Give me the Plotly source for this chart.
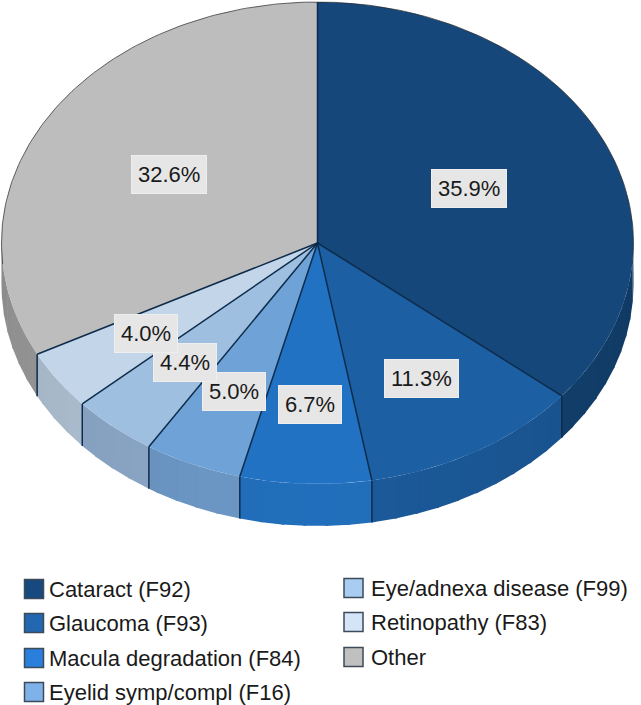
import math
import plotly.graph_objects as go

categories = ["Cataract (F92)", "Glaucoma (F93)", "Macula degradation (F84)", "Eyelid symp/compl (F16)",
              "Eye/adnexa disease (F99)", "Retinopathy (F83)", "Other"]
shares = [35.9, 11.3, 6.7, 5.0, 4.4, 4.0, 32.6]
labels = ["35.9%", "11.3%", "6.7%", "5.0%", "4.4%", "4.0%", "32.6%"]

top_colors = ["#15477a", "#1c5fa3", "#2272c3", "#6fa3d8", "#9fbfe0", "#c3d5e8", "#bdbdbd"]
side_colors = [(19, 68, 116), (28, 91, 156), (34, 112, 189), (111, 155, 202), (146, 174, 207), (184, 203, 222), (164, 164, 164)]
swatch_colors = ["#17497f", "#2267b0", "#2a7fdc", "#7fb2e8", "#a9cdf2", "#d3e5f7", "#c0c0c0"]

# how far out each label sits along the middle of its slice
label_radius = [0.53, 0.65, 0.67, 0.67, 0.65, 0.66, 0.55]

# the figure axes run in pixels, y going down
WIDTH, HEIGHT = 641, 705
CX, CY, RX, RY, DEPTH = 317.5, 243, 316, 241, 42
EDGE = "#0d2b4a"
FONT = "Liberation Sans, Arial, sans-serif"

def rim(angle, drop=0):
    a = math.radians(angle)
    return CX + RX * math.sin(a), CY - RY * math.cos(a) + drop

def arc(start, end, drop=0):
    steps = max(2, int(abs(end - start)))
    angles = [start + (end - start) * i / steps for i in range(steps + 1)]
    return [rim(a, drop) for a in angles]

def polygon(points, color):
    return go.Scatter(x=[p[0] for p in points], y=[p[1] for p in points], mode="lines", fill="toself",
                      fillcolor=color, line=dict(width=0), hoverinfo="skip", showlegend=False)

def line(points, width=1.5, color=EDGE):
    return go.Scatter(x=[p[0] for p in points], y=[p[1] for p in points], mode="lines",
                      line=dict(width=width, color=color), hoverinfo="skip", showlegend=False)

def shade(rgb, angle):
    # wall gets darker towards the left and right ends
    f = 1 - 0.15 * abs(angle - 180) / 90
    return "rgb(%d,%d,%d)" % tuple(c * f for c in rgb)

total = sum(shares)
bounds = [0]
for s in shares:
    bounds.append(bounds[-1] + s / total * 360)

fig = go.Figure()

# side wall only shows on the front half
for i in range(len(shares)):
    start, end = max(bounds[i], 90), min(bounds[i + 1], 270)
    a = start
    while a < end:
        b = min(a + 4, end)
        stop = min(b + 0.5, end)
        fig.add_trace(polygon(arc(a, stop) + arc(stop, a, DEPTH), shade(side_colors[i], (a + b) / 2)))
        a = b

for i in range(len(shares)):
    fig.add_trace(polygon([(CX, CY)] + arc(bounds[i], bounds[i + 1]), top_colors[i]))

for b in bounds[:-1]:
    fig.add_trace(line([(CX, CY), rim(b)]))
    if 90 < b < 270:
        fig.add_trace(line([rim(b), rim(b, DEPTH)]))
fig.add_trace(line(arc(-95, 95), width=1, color="rgba(40,40,40,0.7)"))

for i, text in enumerate(labels):
    mid = (bounds[i] + bounds[i + 1]) / 2
    a = math.radians(mid)
    fig.add_annotation(x=CX + RX * label_radius[i] * math.sin(a), y=CY - RY * label_radius[i] * math.cos(a),
                       text=text, showarrow=False, font=dict(size=22, color="#1a1a1a", family=FONT),
                       bgcolor="#e6e6e6", bordercolor="#eeeeee", borderwidth=1, borderpad=6)

# legend, two columns filled top to bottom
legend_x = [34, 34, 34, 34, 353.5, 353.5, 353.5]
legend_y = [589, 623, 658, 692, 588, 622, 657]
legend_text_x = [47, 47, 47, 47, 369, 369, 369]
for i, name in enumerate(categories):
    fig.add_trace(go.Scatter(x=[legend_x[i]], y=[legend_y[i]], mode="markers",
                             marker=dict(symbol="square", size=19, color=swatch_colors[i],
                                         line=dict(width=1.5, color="#3d4a58")),
                             hoverinfo="skip", showlegend=False))
    fig.add_annotation(x=legend_text_x[i], y=legend_y[i], text=name, showarrow=False, xanchor="left",
                       font=dict(size=22, color="#1a1a1a", family=FONT))

fig.update_layout(width=WIDTH, height=HEIGHT, margin=dict(l=0, r=0, t=0, b=0), showlegend=False,
                  paper_bgcolor="white", plot_bgcolor="white",
                  xaxis=dict(range=[0, WIDTH], visible=False, fixedrange=True),
                  yaxis=dict(range=[HEIGHT, 0], visible=False, fixedrange=True))

fig.write_html("out.html", config={"displayModeBar": False},
               post_script="document.body.style.margin='0';")
